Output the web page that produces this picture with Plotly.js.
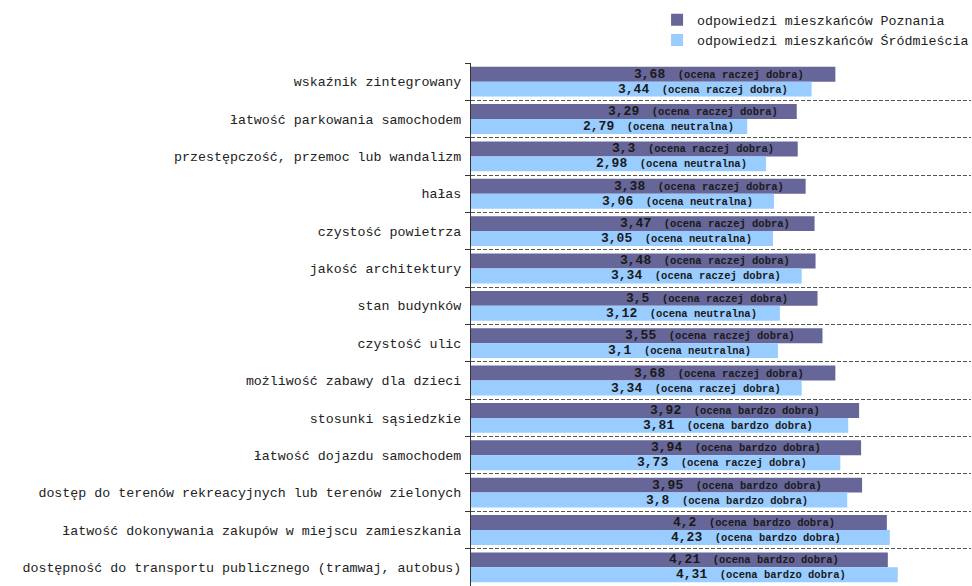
<!DOCTYPE html>
<html>
<head>
<meta charset="utf-8">
<script src="https://cdn.plot.ly/plotly-3.0.1.min.js"></script>
<style>html,body{margin:0;padding:0;background:#fff;}#chart{width:972px;height:586px;}</style>
</head>
<body>
<div id="chart"></div>
<script>
const categories = [
  "wskaźnik zintegrowany",
  "łatwość parkowania samochodem",
  "przestępczość, przemoc lub wandalizm",
  "hałas",
  "czystość powietrza",
  "jakość architektury",
  "stan budynków",
  "czystość ulic",
  "możliwość zabawy dla dzieci",
  "stosunki sąsiedzkie",
  "łatwość dojazdu samochodem",
  "dostęp do terenów rekreacyjnych lub terenów zielonych",
  "łatwość dokonywania zakupów w miejscu zamieszkania",
  "dostępność do transportu publicznego (tramwaj, autobus)"
];
const seriesNames = ["odpowiedzi mieszkańców Poznania", "odpowiedzi mieszkańców Śródmieścia"];
const poznan = [3.68, 3.29, 3.3, 3.38, 3.47, 3.48, 3.5, 3.55, 3.68, 3.92, 3.94, 3.95, 4.2, 4.21];
const srodmiescie = [3.44, 2.79, 2.98, 3.06, 3.05, 3.34, 3.12, 3.1, 3.34, 3.81, 3.73, 3.8, 4.23, 4.31];
const ratingPoznan = ["raczej dobra","raczej dobra","raczej dobra","raczej dobra","raczej dobra","raczej dobra","raczej dobra","raczej dobra","raczej dobra","bardzo dobra","bardzo dobra","bardzo dobra","bardzo dobra","bardzo dobra"];
const ratingSrodmiescie = ["raczej dobra","neutralna","neutralna","neutralna","neutralna","raczej dobra","neutralna","neutralna","raczej dobra","bardzo dobra","raczej dobra","bardzo dobra","bardzo dobra","bardzo dobra"];

const colors = ["#666699", "#99CCFF"];
const FONT = "Liberation Mono, Courier New, monospace";

function fmt(v){ return String(v).replace('.', ','); }
function label(v, r){
  return "<b>" + fmt(v) + "<span style=\"font-size:10.5px\">\u00a0\u00a0(ocena " + r + ")</span></b>";
}

const traces = [
  {type:'bar', orientation:'h', name: seriesNames[0], y: categories, x: poznan,
   marker:{color: colors[0]}, hoverinfo:'x+y'},
  {type:'bar', orientation:'h', name: seriesNames[1], y: categories, x: srodmiescie,
   marker:{color: colors[1]}, hoverinfo:'x+y'}
];

const annotations = [];
categories.forEach((c, i) => {
  annotations.push({x: poznan[i]*0.68, y: c, yshift: 7.5, text: label(poznan[i], ratingPoznan[i]),
    showarrow:false, xanchor:'center', yanchor:'middle', font:{family:FONT, size:13, color:'#1a1a1a'}});
  annotations.push({x: srodmiescie[i]*0.68, y: c, yshift: -7.5, text: label(srodmiescie[i], ratingSrodmiescie[i]),
    showarrow:false, xanchor:'center', yanchor:'middle', font:{family:FONT, size:13, color:'#1a1a1a'}});
});

const layout = {
  width: 972, height: 586,
  margin: {l: 471, r: 1, t: 63, b: 0, pad: 0, autoexpand: false},
  paper_bgcolor: '#ffffff', plot_bgcolor: '#ffffff',
  barmode: 'group', bargap: 0.2, bargroupgap: 0,
  font: {family: FONT, size: 13.3, color: '#222'},
  showlegend: true,
  legend: {xref: 'container', yref: 'container', x: 0.676, xanchor: 'left', y: 0.992, yanchor: 'top', orientation: 'v',
    font: {family: FONT, size: 13.3, color: '#222'}, bgcolor: 'rgba(0,0,0,0)', traceorder: 'normal'},
  xaxis: {range: [0, 5.05], showgrid: false, zeroline: false, showticklabels: false, ticks: '', showline: false, fixedrange: true},
  yaxis: {autorange: 'reversed', type: 'category', tickson: 'boundaries', ticks: 'outside', ticklen: 5,
    tickcolor: '#333', showline: true, linecolor: '#333', linewidth: 1,
    showgrid: true, gridcolor: '#555', gridwidth: 1, griddash: '4px,2px',
    tickfont: {family: FONT, size: 13.3, color: '#222'}, ticklabelstandoff: 6, fixedrange: true},
  annotations: annotations
};

Plotly.newPlot('chart', traces, layout, {displayModeBar: false, staticPlot: true});
</script>
</body>
</html>
